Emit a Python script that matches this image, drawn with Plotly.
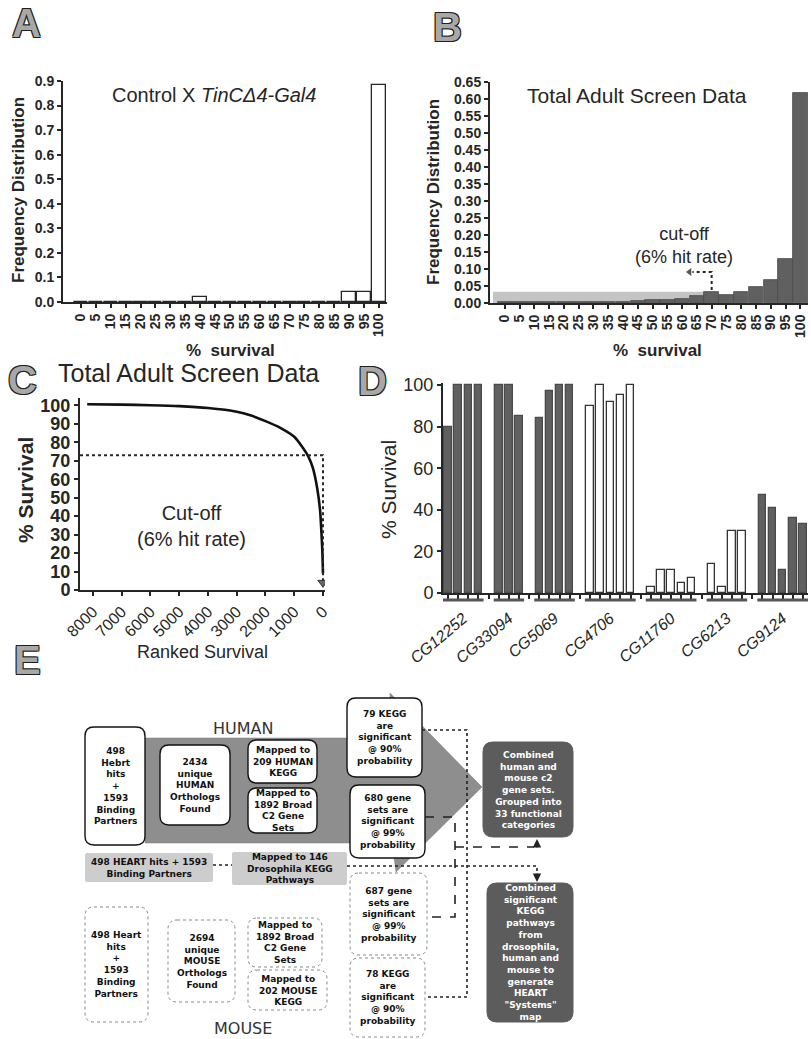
import plotly.graph_objects as go

W, H = 811, 1039
def X(px): return px / W
def Y(py): return 1 - py / H

FONT = "Liberation Sans"
INK = "#262626"
DARK = "#606060"

# ---------------- data ----------------
# Panel A / B: frequency distribution of % survival
surv_bins = list(range(0, 101, 5))
freq_control = [0, 0, 0, 0, 0, 0, 0, 0, 0.02, 0, 0, 0, 0, 0, 0, 0, 0, 0, 0.04, 0.04, 0.885]
freq_screen = [0.002, 0.002, 0.002, 0.002, 0.002, 0.002, 0.003, 0.003, 0.004, 0.005, 0.008,
               0.010, 0.013, 0.020, 0.032, 0.023, 0.032, 0.046, 0.067, 0.128, 0.618]
cutoff_bin = 70
hit_band_top = 0.033

# Panel C: ranked survival curve
rank = [8200, 7000, 6000, 5000, 4000, 3000, 2500, 2000, 1500, 1000, 700, 500, 350, 200, 100, 50, 20, 0]
ranked_surv = [100.6, 100.4, 100.1, 99.6, 98.6, 96.6, 94.5, 91.5, 88, 83, 77, 72, 66, 55, 43, 30, 20, 9]
cutoff_surv = 73
rank_ticks = [8000, 7000, 6000, 5000, 4000, 3000, 2000, 1000, 0]

# Panel D: survival of individual lines per gene
genes = ["CG12252", "CG33094", "CG5069", "CG4706", "CG11760", "CG6213", "CG9124"]
gene_values = [[80, 100, 100, 100], [100, 100, 85], [84, 97, 100, 100],
               [90, 100, 92, 95, 100], [3, 11, 11, 5, 7], [14, 3, 30, 30],
               [47, 41, 11, 36, 33]]
gene_filled = [True, True, True, False, False, False, True]

fig = go.Figure()

# ---------- Panel A ----------
fig.add_trace(go.Bar(x=surv_bins, y=freq_control, width=4.7, xaxis="x", yaxis="y",
                     marker=dict(color="white", line=dict(color=INK, width=1.3)),
                     showlegend=False))

# ---------- Panel B ----------
fig.add_trace(go.Bar(x=surv_bins, y=freq_screen, width=4.9, xaxis="x2", yaxis="y2",
                     marker=dict(color=DARK, line=dict(color="#4a4a4a", width=0.8)),
                     showlegend=False))
fig.add_trace(go.Scatter(x=[cutoff_bin, cutoff_bin, 63.5], y=[0.038, 0.091, 0.091],
                         xaxis="x2", yaxis="y2", mode="lines",
                         line=dict(color=INK, width=2, dash="dot"), showlegend=False))
fig.add_trace(go.Scatter(x=[62.5], y=[0.091], xaxis="x2", yaxis="y2", mode="markers",
                         marker=dict(symbol="triangle-left", size=7, color="#555"),
                         showlegend=False))

# ---------- Panel C ----------
fig.add_trace(go.Scatter(x=rank, y=ranked_surv, xaxis="x3", yaxis="y3", mode="lines",
                         line=dict(color="#111", width=2.6, shape="spline", smoothing=0.6),
                         showlegend=False))
fig.add_trace(go.Scatter(x=[8450, 0, 0], y=[cutoff_surv, cutoff_surv, 0], xaxis="x3", yaxis="y3",
                         mode="lines", line=dict(color=INK, width=2, dash="dot"), showlegend=False))
fig.add_trace(go.Scatter(x=[0], y=[4], xaxis="x3", yaxis="y3", mode="markers",
                         marker=dict(symbol="triangle-down", size=9, color="#666",
                                     line=dict(color="#333", width=1)), showlegend=False))

# ---------- Panel D ----------
slot = 0
centers = []
groups = []
for g, vals, filled in zip(genes, gene_values, gene_filled):
    xs = list(range(slot, slot + len(vals)))
    centers.append(sum(xs) / len(xs))
    groups.append((xs[0], xs[-1]))
    fig.add_trace(go.Bar(x=xs, y=vals, width=0.74, xaxis="x4", yaxis="y4",
                         marker=dict(color=DARK if filled else "white",
                                     line=dict(color="#333" if not filled else "#4a4a4a", width=1.3)),
                         showlegend=False))
    slot += len(vals) + 1
last_slot = slot - 2

axis_common = dict(showline=True, linecolor=INK, linewidth=2, ticks="outside", ticklen=4,
                   tickwidth=2, tickcolor=INK, showgrid=False, zeroline=False, automargin=False)
tick_bold = dict(family=FONT, size=14, color=INK, weight="bold")

layout = dict(
    width=W, height=H, margin=dict(l=0, r=0, t=0, b=0, autoexpand=False),
    paper_bgcolor="white", plot_bgcolor="white", bargap=0, showlegend=False,
    xaxis=dict(domain=[X(63), X(387)], anchor="y", range=[-6, 102.7], tickmode="array",
               tickvals=surv_bins, tickangle=-90, tickfont=tick_bold, **axis_common),
    yaxis=dict(domain=[Y(302), Y(81)], anchor="x", range=[0, 0.9], dtick=0.1, tickformat=".1f",
               tickfont=tick_bold, **axis_common),
    xaxis2=dict(domain=[X(490), X(808)], anchor="y2", range=[-5, 102.6], tickmode="array",
                tickvals=surv_bins, tickangle=-90, tickfont=tick_bold, **axis_common),
    yaxis2=dict(domain=[Y(303), Y(82)], anchor="x2", range=[0, 0.65], dtick=0.05, tickformat=".2f",
                tickfont=tick_bold, **axis_common),
    xaxis3=dict(domain=[X(80), X(325)], anchor="y3", range=[8450, -70], tickmode="array",
                tickvals=rank_ticks, tickangle=-45,
                tickfont=dict(family=FONT, size=16, color=INK), **axis_common),
    yaxis3=dict(domain=[Y(590), Y(398)], anchor="x3", range=[0, 104], tickmode="array",
                tickvals=list(range(0, 101, 10)),
                tickfont=dict(family=FONT, size=18, color=INK, weight="bold"), **axis_common),
    xaxis4=dict(domain=[X(443), X(808)], anchor="y4", range=[-0.5, last_slot + 0.5],
                tickmode="array", tickvals=centers, ticktext=genes, tickangle=-40,
                showline=True, linecolor=INK, linewidth=2, ticks="", showgrid=False, zeroline=False,
                automargin=False, ticklabelstandoff=8,
                tickfont=dict(family=FONT, size=16, color=INK, style="italic"),
                minor=dict(ticks="outside", tickmode="linear", tick0=0, dtick=1, ticklen=4,
                           tickwidth=1.5, tickcolor=INK, showgrid=False)),
    yaxis4=dict(domain=[Y(593), Y(383)], anchor="x4", range=[0, 101], tickmode="array",
                tickvals=list(range(0, 101, 20)),
                tickfont=dict(family=FONT, size=18, color=INK), **axis_common),
)
fig.update_layout(**layout)

shapes = []
ann = []

# Panel B hit band
shapes.append(dict(type="rect", xref="x2", yref="y2", x0=-4, x1=68, y0=0, y1=hit_band_top,
                   fillcolor="#c4c4c4", line=dict(width=0), layer="below"))

# Panel D group underlines
for a, b in groups:
    shapes.append(dict(type="line", xref="x4", yref="paper", x0=a - 0.5, x1=b + 0.5,
                       y0=Y(600), y1=Y(600), line=dict(color="#555", width=3)))

def txt(x, y, s, size, weight="normal", color=INK, family=FONT, xref="paper", yref="paper",
        angle=0, align="center", **kw):
    ann.append(dict(x=x, y=y, xref=xref, yref=yref, text=s, showarrow=False, textangle=angle,
                    align=align, xanchor="center", yanchor="middle",
                    font=dict(family=family, size=size, color=color, weight=weight), **kw))

# Panel letters
outline = "-1px -1px 0 #1e1e1e, 1px -1px 0 #1e1e1e, -1px 1px 0 #1e1e1e, 1px 1px 0 #1e1e1e"
for L, px, py in [("A", 26, 23), ("B", 447, 27), ("C", 22, 380), ("D", 372, 381), ("E", 27, 660)]:
    ann.append(dict(x=X(px), y=Y(py), xref="paper", yref="paper", text=L, showarrow=False,
                    xanchor="center", yanchor="middle",
                    font=dict(family=FONT, size=40, color="#a8a8a8", weight="bold", shadow=outline)))

# Panel A texts
txt(X(214), Y(95), "Control X <i>TinC\u03944-Gal4</i>", 20)
txt(X(18), Y(190), "Frequency Distribution", 17, "bold", angle=-90)
txt(X(230), Y(350), "%  survival", 17, "bold")

# Panel B texts
txt(X(637), Y(95), "Total Adult Screen Data", 21)
txt(X(433), Y(192), "Frequency Distribution", 17, "bold", angle=-90)
txt(X(657), Y(350), "%  survival", 17, "bold")
txt(60.7, 0.17, "cut-off<br>(6% hit rate)", 18, xref="x2", yref="y2")

# Panel C texts
txt(X(188), Y(373), "Total Adult Screen Data", 25)
txt(X(25), Y(490), "% Survival", 21, "bold", angle=-90)
txt(X(202), Y(652), "Ranked Survival", 18)
txt(4557, 34.6, "Cut-off<br>(6% hit rate)", 20, xref="x3", yref="y3")

# Panel D texts
txt(X(388), Y(490), "% Survival", 21, angle=-90)

# ---------- Panel E diagram ----------
def P(x, y):
    return f"{X(x):.5f},{Y(y):.5f}"

def rrect(x0, y0, x1, y1, r):
    return (f"M{P(x0 + r, y0)} L{P(x1 - r, y0)} Q{P(x1, y0)} {P(x1, y0 + r)} "
            f"L{P(x1, y1 - r)} Q{P(x1, y1)} {P(x1 - r, y1)} L{P(x0 + r, y1)} "
            f"Q{P(x0, y1)} {P(x0, y1 - r)} L{P(x0, y0 + r)} Q{P(x0, y0)} {P(x0 + r, y0)} Z")

# big HUMAN arrow
arrow_pts = [(145, 738), (390, 738), (390, 693), (482, 787), (396, 872), (392, 843), (145, 843)]
shapes.append(dict(type="path", xref="paper", yref="paper",
                   path="M" + " L".join(P(a, b) for a, b in arrow_pts) + " Z",
                   fillcolor="#8e8e8e", line=dict(color="#7a7a7a", width=0.5), layer="below"))

boxes = [
    (85, 727, 145, 845, "498<br>Hebrt<br>hits<br>+<br>1593<br>Binding<br>Partners", "human"),
    (160, 745, 230, 825, "2434<br>unique<br>HUMAN<br>Orthologs<br>Found", "human"),
    (248, 740, 317, 783, "Mapped to<br>209 HUMAN<br>KEGG", "human"),
    (248, 788, 317, 833, "Mapped to<br>1892 Broad<br>C2 Gene<br>Sets", "human"),
    (347, 698, 422, 777, "79 KEGG<br>are<br>significant<br>@ 90%<br>probability", "human"),
    (350, 785, 425, 858, "680 gene<br>sets are<br>significant<br>@ 99%<br>probability", "human"),
    (483, 742, 573, 837, "Combined<br>human and<br>mouse c2<br>gene sets.<br>Grouped into<br>33 functional<br>categories", "dark"),
    (85, 853, 213, 882, "498 HEART hits + 1593<br>Binding Partners", "light"),
    (232, 852, 347, 885, "Mapped to 146<br>Drosophila KEGG<br>Pathways", "light"),
    (350, 873, 427, 955, "687 gene<br>sets are<br>significant<br>@ 99%<br>probability", "mouse"),
    (350, 958, 425, 1037, "78 KEGG<br>are<br>significant<br>@ 90%<br>probability", "mouse"),
    (85, 907, 148, 1022, "498 Heart<br>hits<br>+<br>1593<br>Binding<br>Partners", "mouse"),
    (168, 920, 235, 1002, "2694<br>unique<br>MOUSE<br>Orthologs<br>Found", "mouse"),
    (248, 918, 322, 967, "Mapped to<br>1892 Broad<br>C2 Gene<br>Sets", "mouse"),
    (248, 970, 327, 1010, "Mapped to<br>202 MOUSE<br>KEGG", "mouse"),
    (487, 883, 573, 1022, "Combined<br>significant<br>KEGG<br>pathways<br>from<br>drosophila,<br>human and<br>mouse to<br>generate<br>HEART<br>\"Systems\"<br>map", "dark"),
]
styles = {
    "human": dict(fill="white", line=dict(color="#111", width=1.4), r=9, color="#111"),
    "mouse": dict(fill="white", line=dict(color="#888", width=1, dash="dot"), r=9, color="#111"),
    "dark": dict(fill="#5c5c5c", line=dict(color="#5c5c5c", width=1), r=10, color="white"),
    "light": dict(fill="#cdcdcd", line=dict(color="#cdcdcd", width=0), r=2, color="#111"),
}
for x0, y0, x1, y1, s, st in boxes:
    sd = styles[st]
    shapes.append(dict(type="path", xref="paper", yref="paper", path=rrect(x0, y0, x1, y1, sd["r"]),
                       fillcolor=sd["fill"], line=sd["line"]))
    ann.append(dict(x=X((x0 + x1) / 2), y=Y((y0 + y1) / 2), xref="paper", yref="paper", text=s,
                    showarrow=False, align="center", xanchor="center", yanchor="middle",
                    font=dict(family="DejaVu Sans", size=9, color=sd["color"], weight="bold")))

def pline(pts, dash, width=1.6, color="#222"):
    shapes.append(dict(type="path", xref="paper", yref="paper",
                       path="M" + " L".join(P(a, b) for a, b in pts),
                       line=dict(color=color, width=width, dash=dash)))

pline([(422, 730), (467, 730), (467, 997), (425, 997)], "dot")
pline([(213, 865), (232, 865)], "dot")
pline([(347, 866), (537, 866), (537, 877)], "dot")
pline([(425, 817), (455, 817), (455, 917), (427, 917)], "dash")
pline([(455, 847), (534, 847)], "dash")

for tipy, offset in [(839, 10), (882, -10)]:
    ann.append(dict(x=X(537), y=Y(tipy), ax=0, ay=offset, xref="paper", yref="paper",
                    axref="pixel", ayref="pixel", showarrow=True, arrowhead=2, arrowsize=1.2,
                    arrowwidth=1.4, arrowcolor="#222", text=""))

txt(X(243), Y(728), "HUMAN", 16, family="DejaVu Sans", color="#333")
txt(X(243), Y(1028), "MOUSE", 16, family="DejaVu Sans", color="#333")

fig.update_layout(shapes=shapes, annotations=ann)
fig.write_html("out.html", post_script="document.body.style.margin='0';",
               config={"displayModeBar": False})
